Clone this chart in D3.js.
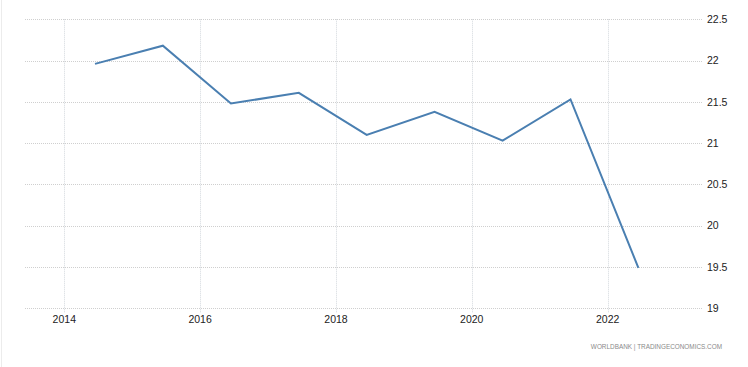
<!DOCTYPE html>
<html>
<head>
<meta charset="utf-8">
<script src="https://cdn.jsdelivr.net/npm/d3@7"></script>
<style>
  html, body { margin: 0; padding: 0; background: #fff; }
  svg { display: block; font-family: "Liberation Sans", Arial, sans-serif; }
</style>
</head>
<body>
<div id="chart"></div>
<script>
// annual observations (plotted mid-year)
const dates = ["2014-06-15", "2015-06-15", "2016-06-15", "2017-06-15", "2018-06-15",
               "2019-06-15", "2020-06-15", "2021-06-15", "2022-06-15"];
const values = [21.96, 22.18, 21.48, 21.61, 21.10, 21.38, 21.03, 21.53, 19.49];
const yTicks = [19, 19.5, 20, 20.5, 21, 21.5, 22, 22.5];
const xTickYears = [2014, 2016, 2018, 2020, 2022];
const source = "WORLDBANK | TRADINGECONOMICS.COM";

const width = 748, height = 367;
const parse = d3.timeParse("%Y-%m-%d");
const data = dates.map((d, i) => ({ date: parse(d), value: values[i] }));

const svg = d3.select("#chart").append("svg")
  .attr("width", width)
  .attr("height", height);

// faint left border
svg.append("line")
  .attr("x1", 1.5).attr("x2", 1.5)
  .attr("y1", 0).attr("y2", height)
  .attr("stroke", "#ececec");

const x = d3.scaleTime()
  .domain([new Date(2014, 0, 1), new Date(2022, 0, 1)])
  .range([64.3, 607.7]);

const y = d3.scaleLinear()
  .domain([19, 22.5])
  .range([308.3, 19.3]);

const gridLeft = 25, gridRight = 703;

// horizontal grid
svg.append("g")
  .selectAll("line")
  .data(yTicks)
  .join("line")
  .attr("x1", gridLeft).attr("x2", gridRight)
  .attr("y1", d => Math.round(y(d)) + 0.5)
  .attr("y2", d => Math.round(y(d)) + 0.5)
  .attr("stroke", "#cfcfcf")
  .attr("stroke-dasharray", "1,1");

// vertical grid
svg.append("g")
  .selectAll("line")
  .data(xTickYears)
  .join("line")
  .attr("x1", d => Math.round(x(new Date(d, 0, 1))) + 0.5)
  .attr("x2", d => Math.round(x(new Date(d, 0, 1))) + 0.5)
  .attr("y1", y(22.5))
  .attr("y2", y(19) + 4)
  .attr("stroke", "#d3d8dd")
  .attr("stroke-dasharray", "1,1");

// y labels on the right
svg.append("g")
  .selectAll("text")
  .data(yTicks)
  .join("text")
  .attr("x", 707)
  .attr("y", d => y(d))
  .attr("dy", "0.35em")
  .attr("font-size", "10.5px")
  .attr("fill", "#222")
  .text(d => d);

// x labels
svg.append("g")
  .selectAll("text")
  .data(xTickYears)
  .join("text")
  .attr("x", d => x(new Date(d, 0, 1)))
  .attr("y", 323)
  .attr("text-anchor", "middle")
  .attr("font-size", "10.5px")
  .attr("fill", "#222")
  .text(d => d);

// the series
const line = d3.line()
  .x(d => x(d.date))
  .y(d => y(d.value));

svg.append("path")
  .datum(data)
  .attr("fill", "none")
  .attr("stroke", "#4a7fb1")
  .attr("stroke-width", 2)
  .attr("stroke-linejoin", "miter")
  .attr("d", line);

// source
svg.append("text")
  .attr("x", 722)
  .attr("y", 349)
  .attr("text-anchor", "end")
  .attr("font-size", "6.4px")
  .attr("fill", "#8a8a8a")
  .text(source);
</script>
</body>
</html>
